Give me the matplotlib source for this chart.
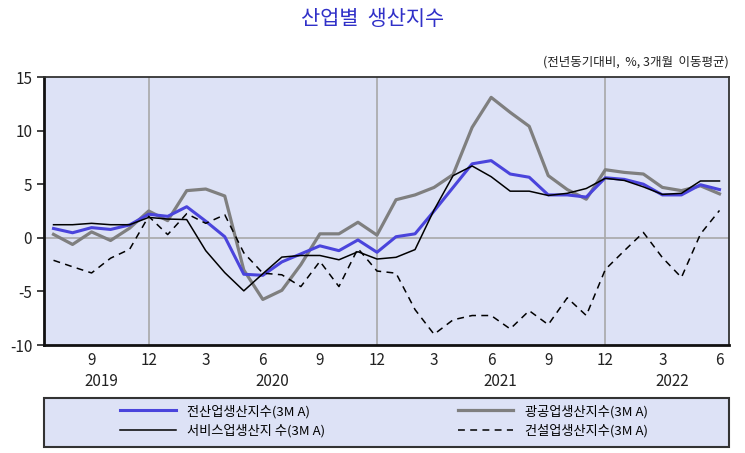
import matplotlib
matplotlib.use("agg")
import matplotlib.pyplot as plt
from matplotlib.patches import Rectangle
from matplotlib.transforms import blended_transform_factory

plt.rcParams['font.family'] = ['Noto Sans CJK KR', 'DejaVu Sans']
plt.rcParams['axes.unicode_minus'] = False

# monthly, 2019.7 ~ 2022.6 (3-month moving average, % yoy)
months = [7, 8, 9, 10, 11, 12,
          1, 2, 3, 4, 5, 6, 7, 8, 9, 10, 11, 12,
          1, 2, 3, 4, 5, 6, 7, 8, 9, 10, 11, 12,
          1, 2, 3, 4, 5, 6]
years = ['2019', '2020', '2021', '2022']
year_centers = [2.5, 11.5, 23.5, 32.5]

total = [0.87, 0.47, 0.95, 0.78, 1.2, 2.2, 2.0, 2.9, 1.55, 0.1, -3.4, -3.5,
         -2.25, -1.5, -0.75, -1.2, -0.2, -1.35, 0.1, 0.37, 2.5, 4.7, 6.9, 7.2,
         5.95, 5.65, 4.0, 4.0, 3.8, 5.6, 5.45, 5.0, 4.0, 4.0, 4.95, 4.5]
mining = [0.32, -0.62, 0.55, -0.25, 0.9, 2.5, 1.6, 4.4, 4.55, 3.9, -3.0, -5.75,
          -4.9, -2.5, 0.37, 0.37, 1.45, 0.25, 3.55, 4.0, 4.7, 5.9, 10.3, 13.1,
          11.7, 10.4, 5.8, 4.5, 3.6, 6.35, 6.1, 5.95, 4.7, 4.4, 4.85, 4.1]
service = [1.22, 1.22, 1.35, 1.22, 1.22, 1.9, 1.75, 1.7, -1.2, -3.25, -4.95, -3.35,
           -1.8, -1.65, -1.65, -2.05, -1.3, -1.98, -1.82, -1.1, 2.6, 5.8, 6.7, 5.7,
           4.35, 4.35, 3.95, 4.15, 4.6, 5.55, 5.35, 4.75, 4.05, 4.15, 5.3, 5.3]
construction = [-2.1, -2.7, -3.28, -1.9, -1.07, 2.0, 0.3, 2.25, 1.35, 2.15, -1.4, -3.3,
                -3.45, -4.55, -2.2, -4.55, -1.0, -3.1, -3.3, -6.7, -9.0, -7.65, -7.25, -7.25,
                -8.5, -6.8, -8.1, -5.6, -7.25, -2.95, -1.2, 0.5, -1.85, -3.7, 0.35, 2.55]

labels = ['전산업생산지수(3M A)', '서비스업생산지 수(3M A)',
          '광공업생산지수(3M A)', '건설업생산지수(3M A)']

x = list(range(len(months)))
bg = '#dde2f6'
txt = '#222222'

fig = plt.figure(figsize=(7.45, 4.53), dpi=100)
ax = fig.add_axes([44 / 745, 1 - 345 / 453, 685 / 745, 268 / 453])
ax.set_facecolor(bg)

fig.text(0.5, 1 - 19 / 453, '산업별  생산지수', ha='center', va='center',
         fontsize=15, color='#3030c8', fontweight='light')
fig.text(729 / 745, 1 - 62 / 453, '(전년동기대비,  %, 3개월  이동평균)',
         ha='right', va='center', fontsize=9, color=txt)

ax.axhline(0, color='#a8a8a8', lw=1.2, zorder=1)
for xv in [5, 17, 29]:
    ax.axvline(xv, color='#a8a8a8', lw=1.2, zorder=1)

l_min, = ax.plot(x, mining, color='#7f7f7f', lw=2.3, zorder=2)
l_tot, = ax.plot(x, total, color='#4a44dc', lw=2.2, zorder=3)
l_srv, = ax.plot(x, service, color='black', lw=1.1, zorder=4)
l_con, = ax.plot(x, construction, color='black', lw=1.1, ls=(0, (4.5, 3.5)), zorder=4)

ax.set_xlim(-0.5, 35.5)
ax.set_ylim(-10, 15)
ax.set_yticks([-10, -5, 0, 5, 10, 15])
ax.tick_params(axis='y', labelsize=11, length=5, width=1.2, color=txt,
               labelcolor=txt)
tick_idx = list(range(2, 36, 3))
ax.set_xticks(tick_idx)
ax.set_xticklabels([str(months[i]) for i in tick_idx])
ax.tick_params(axis='x', labelsize=11, length=0, pad=5, labelcolor=txt)

for side in ['left', 'bottom']:
    ax.spines[side].set_linewidth(2)
    ax.spines[side].set_color('#111111')
for side in ['top', 'right']:
    ax.spines[side].set_linewidth(1.3)
    ax.spines[side].set_color('#333333')

trans = blended_transform_factory(ax.transData, ax.transAxes)
for xc, yr in zip(year_centers, years):
    ax.text(xc, -0.135, yr, transform=trans, ha='center', va='center',
            fontsize=11, color=txt)

# legend box
fig.patches.append(Rectangle((44 / 745, 1 - 447 / 453), 685 / 745, 49 / 453,
                             transform=fig.transFigure, facecolor=bg,
                             edgecolor='#333333', lw=1.5, zorder=0))
fig.legend([l_tot, l_srv, l_min, l_con], labels, ncol=2, loc='center',
           bbox_to_anchor=(384 / 745, 1 - 421 / 453), frameon=False,
           fontsize=9.5, handlelength=4.2, handletextpad=0.9,
           columnspacing=10, labelspacing=0.45)

fig.savefig('out.png', dpi=100)
plt.close(fig)
